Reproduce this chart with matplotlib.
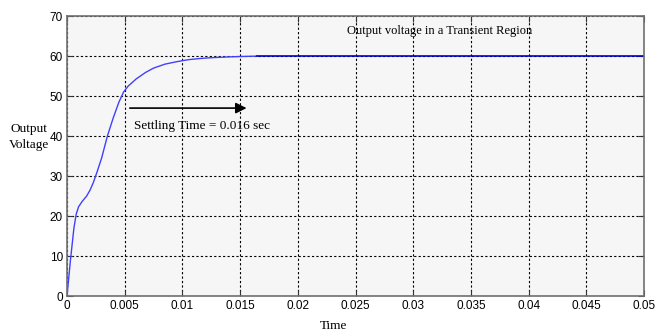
import numpy as np
import matplotlib.pyplot as plt

# transient part of the output voltage
t_rise = [0.0, 0.0003, 0.0006, 0.0008, 0.001, 0.0013, 0.0017, 0.002, 0.0023,
          0.0026, 0.003, 0.0035, 0.004, 0.0045, 0.0049, 0.0053, 0.006,
          0.0068, 0.0075, 0.0085, 0.0095, 0.0105, 0.0115, 0.0125, 0.014,
          0.015, 0.0165]
v_rise = [0.0, 9.0, 17.0, 20.5, 22.3, 23.6, 25.0, 26.5, 28.5,
          31.0, 34.5, 40.0, 44.5, 48.5, 51.0, 52.5, 54.3,
          55.9, 57.0, 58.0, 58.6, 59.1, 59.4, 59.6, 59.8,
          59.9, 60.0]
# steady state part
t_steady = [0.0165, 0.05]
v_steady = [60.0, 60.0]

xticks = [0, 0.005, 0.01, 0.015, 0.02, 0.025, 0.03, 0.035, 0.04, 0.045, 0.05]
xlabels = ['0', '0.005', '0.01', '0.015', '0.02', '0.025', '0.03', '0.035', '0.04', '0.045', '0.05']
yticks = [0, 10, 20, 30, 40, 50, 60, 70]

serif = ['Liberation Serif', 'DejaVu Serif']
narrow = ['Liberation Sans Narrow', 'Liberation Sans', 'DejaVu Sans']

fig = plt.figure(figsize=(6.66, 3.36), dpi=100)
ax = fig.add_axes([0.1006, 0.119, 0.8664, 0.833])
ax.set_facecolor('#f6f6f6')

ax.plot(t_rise, v_rise, color='#4040ff', linewidth=1.0)
ax.plot(t_steady, v_steady, color='#0000c8', linewidth=1.2)

ax.set_xlim(0, 0.05)
ax.set_ylim(0, 70)
ax.set_xticks(xticks)
ax.set_xticklabels(xlabels, family=narrow, fontsize=8.5)
ax.set_yticks(yticks)
ax.set_yticklabels([str(v) for v in yticks], family=narrow, fontsize=8.5)
ax.tick_params(direction='in', length=4, top=True, right=True, color='#333333', pad=3)
ax.grid(True, color='black', linestyle=(0, (2, 2)), linewidth=0.8)

for s in ax.spines.values():
    s.set_color('#707070')
    s.set_linewidth(1.2)

ax.annotate('', xy=(0.0158, 47), xytext=(0.0052, 47),
            arrowprops=dict(arrowstyle='-|>', color='black', lw=1.2, mutation_scale=16))
ax.text(0.0058, 42.5, 'Settling Time = 0.016 sec', family=serif, fontsize=9.5,
        ha='left', va='center')
ax.text(0.0323, 66.2, 'Output voltage in a Transient Region', family=serif, fontsize=9,
        ha='center', va='center')

fig.text(29 / 666, 1 - 137 / 336, 'Output\nVoltage', family=serif, fontsize=9.5,
         ha='center', va='center', linespacing=1.35)
fig.text(333 / 666, 1 - 326 / 336, 'Time', family=serif, fontsize=9.5,
         ha='center', va='center')

fig.savefig('out.png', dpi=100)
